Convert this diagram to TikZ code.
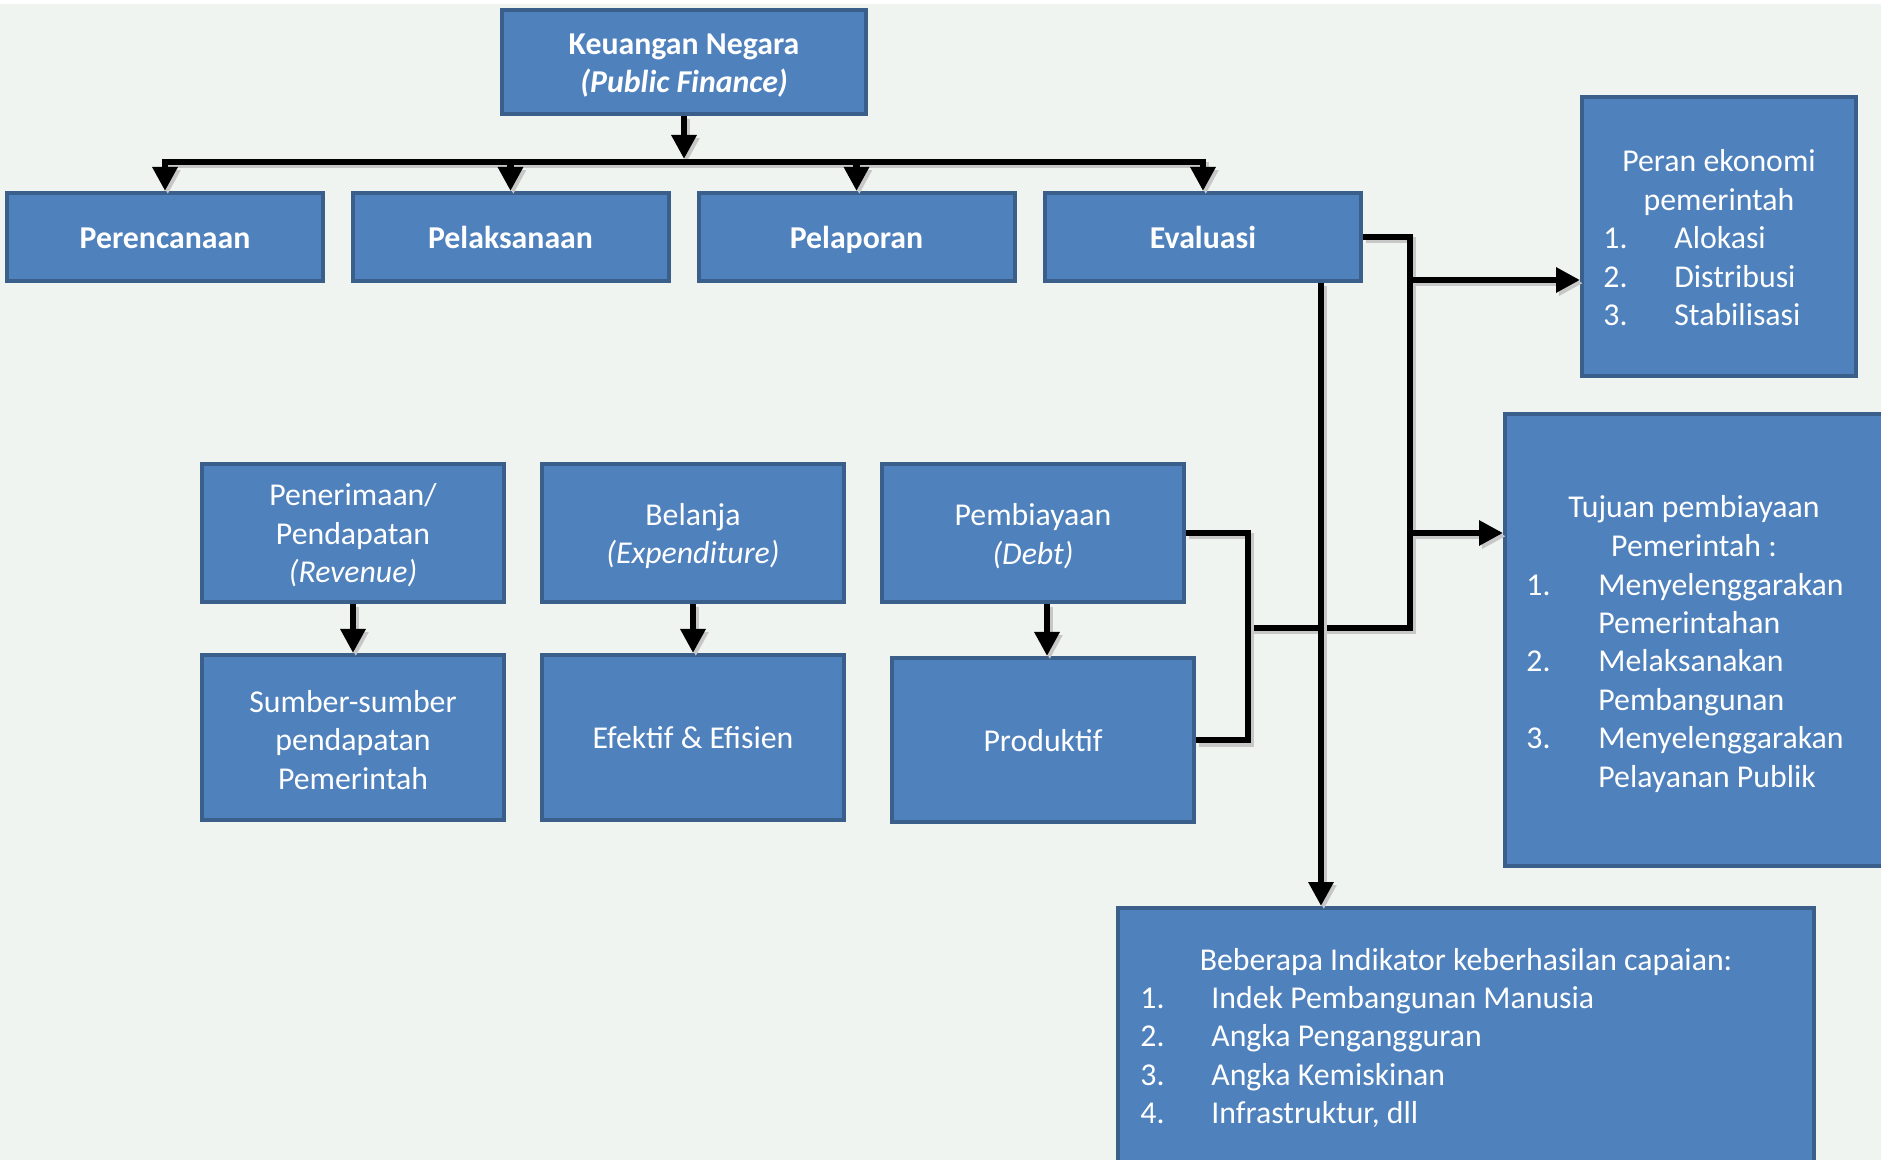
\documentclass[tikz,border=0pt]{standalone}
\usepackage{fontspec}
\setmainfont{Carlito}
\usetikzlibrary{arrows.meta,calc}
\definecolor{bg}{RGB}{239,244,240}
\definecolor{boxfill}{RGB}{79,129,189}
\definecolor{boxline}{RGB}{58,95,139}
\newcommand{\txtsize}{\fontsize{15.9}{19.2}\selectfont}
\begin{document}
\begin{tikzpicture}[x=0.5pt,y=-0.5pt,
  box/.style={draw=boxline, line width=2pt, fill=boxfill, inner sep=0pt},
  txt/.style={text=white, inner sep=0pt, font=\txtsize, align=center},
  oneline/.style={txt, text height=10pt, text depth=0pt},
  conn/.style={line width=3.3pt, draw=black,
    preaction={draw=black!22, line width=3.3pt,
      transform canvas={xshift=1.4pt,yshift=-1.6pt}}},
  tip/.style={-{Triangle[length=12pt,width=12pt]}},
  tips/.style={{Triangle[length=12pt,width=12pt]}-{Triangle[length=12pt,width=12pt]}},
  rowbox/.style={box, minimum width=158pt, minimum height=44pt},
  midbox/.style={box, minimum width=151pt},
]
% page background
\fill[bg] (0,0) rectangle (1881,1160);
\fill[white] (0,0) rectangle (1881,4);
\useasboundingbox (0,0) rectangle (1881,1160);

% top level
\node[box, minimum width=182pt, minimum height=52pt] (kn) at (684,62) {};
\node[txt] (kn-t) at ([yshift=-1.8pt]kn.center)
  {\textbf{Keuangan Negara}\\\textbf{\textit{(Public Finance)}}};

% stages
\node[rowbox] (per) at (165,237)   {};
\node[rowbox] (pel) at (510.5,237) {};
\node[rowbox] (lap) at (856.5,237) {};
\node[rowbox] (eva) at (1203,237)  {};
\node[oneline] (per-t) at ([yshift=-0.6pt]per.center) {\textbf{Perencanaan}};
\node[oneline] (pel-t) at ([yshift=-0.6pt]pel.center) {\textbf{Pelaksanaan}};
\node[oneline] (lap-t) at ([yshift=-0.6pt]lap.center) {\textbf{Pelaporan}};
\node[oneline] (eva-t) at ([yshift=-0.6pt]eva.center) {\textbf{Evaluasi}};

% budget components
\node[midbox, minimum height=69pt] (pen) at (353,533) {};
\node[midbox, minimum height=82.5pt] (sum) at (353,737.5) {};
\node[midbox, minimum height=69pt] (bel) at (693,533) {};
\node[midbox, minimum height=82.5pt] (efe) at (693,737.5) {};
\node[midbox, minimum height=69pt] (pemb) at (1033,533) {};
\node[midbox, minimum height=82pt] (prod) at (1043,740) {};
\node[txt] (pen-t) at ([yshift=-1.2pt]pen.center)
  {Penerimaan/\\Pendapatan\\\textit{(Revenue)}};
\node[txt] (sum-t) at ([yshift=-1.2pt]sum.center)
  {Sumber-sumber\\pendapatan\\Pemerintah};
\node[txt] (bel-t) at ([yshift=-1.6pt]bel.center)
  {Belanja\\\textit{(Expenditure)}};
\node[oneline] (efe-t) at ([yshift=-0.6pt]efe.center) {Efektif \& Efisien};
\node[txt] (pemb-t) at ([yshift=-1.6pt]pemb.center)
  {Pembiayaan\\\textit{(Debt)}};
\node[oneline] (prod-t) at ([yshift=-0.6pt]prod.center) {Produktif};

% right-hand panels
\node[box, minimum width=137pt, minimum height=139.5pt] (peran) at (1719,236.5) {};
\node[txt] (peranhd) at (1719,182.5) {Peran ekonomi\\pemerintah};
\node[txt, anchor=west] (peranls) at (1603,279.5)
  {\begin{tabular}{@{}p{35.5pt}@{}l@{}}
   1. & Alokasi\\ 2. & Distribusi\\ 3. & Stabilisasi
   \end{tabular}};

\node[box, minimum width=190pt, minimum height=226pt] (tuj) at (1695,640) {};
\node[txt] (tujhd) at (1694,526) {Tujuan pembiayaan\\Pemerintah :};
\node[txt, anchor=west] (tujls) at (1526,683.5)
  {\begin{tabular}{@{}p{36pt}@{}l@{}}
   1. & Menyelenggarakan\\ & Pemerintahan\\
   2. & Melaksanakan\\ & Pembangunan\\
   3. & Menyelenggarakan\\ & Pelayanan Publik
   \end{tabular}};

\node[box, minimum width=348pt, minimum height=136pt] (ind) at (1466,1044) {};
\node[txt] (indhd) at (1466,962.5) {Beberapa Indikator keberhasilan capaian:};
\node[txt, anchor=west] (indls) at (1140,1058.5)
  {\begin{tabular}{@{}p{35.5pt}@{}l@{}}
   1. & Indek Pembangunan Manusia\\ 2. & Angka Pengangguran\\
   3. & Angka Kemiskinan\\ 4. & Infrastruktur, dll
   \end{tabular}};

% connectors: top level to stages
\coordinate (busmid) at (684,162);
\draw[conn,tip,shorten >=1.5pt] (kn.south) -- (busmid);
\draw[conn,tips] (per.north) |- (busmid) -| (eva.north);
\draw[conn,tip] (busmid -| pel.north) -- (pel.north);
\draw[conn,tip] (busmid -| lap.north) -- (lap.north);

% connectors: components to their notes
\coordinate (pdown) at (1047,0);
\draw[conn,tip] (pen.south) -- (sum.north);
\draw[conn,tip] (bel.south) -- (efe.north);
\draw[conn,tip] (pdown |- pemb.south) -- (pdown |- prod.north);

% connectors: evaluation and financing to the right panels
\coordinate (rbar) at (1410,628);
\coordinate (junc) at (1248,628);
\coordinate (toperan) at (1410,280);
\coordinate (totuj) at (1410,533);
\coordinate (drop) at (1321,0);
\draw[conn] (eva.east) -| (rbar) -- (junc);
\draw[conn] (pemb.east) -| (junc) |- (prod.east);
\draw[conn,tip] (toperan) -- (toperan -| peran.west);
\draw[conn,tip] (totuj) -- (totuj -| tuj.west);
\draw[conn,tip] (drop |- eva.south) -- (drop |- ind.north);
\end{tikzpicture}
\end{document}
